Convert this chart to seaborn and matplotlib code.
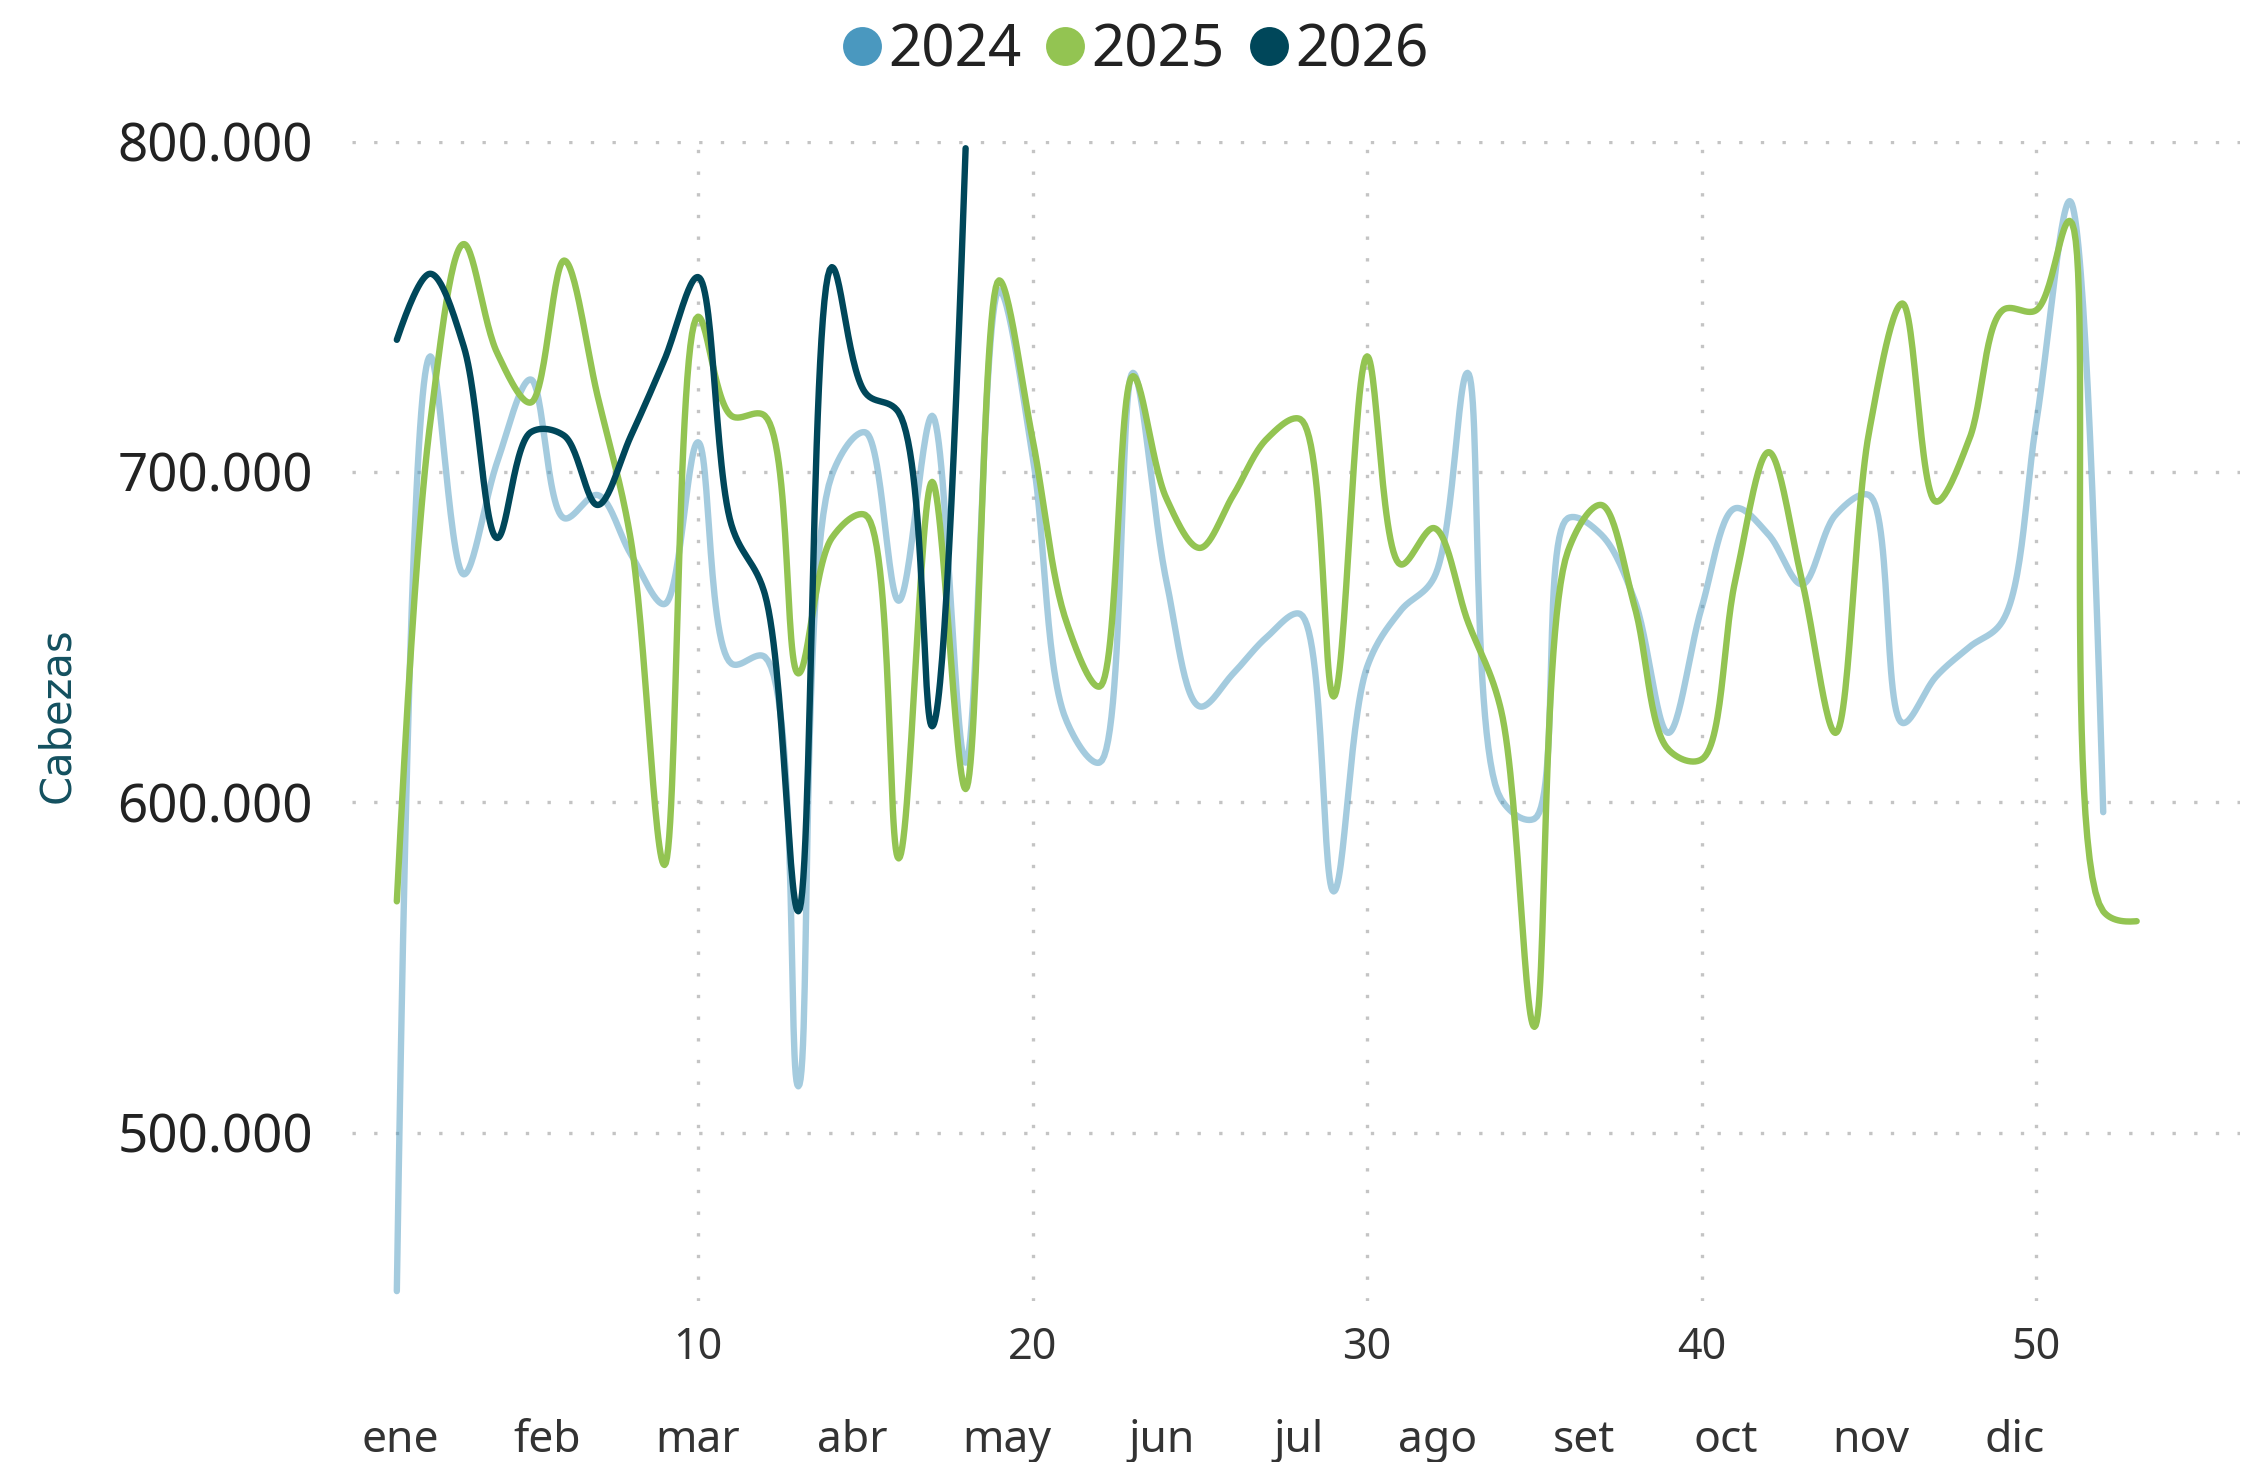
import numpy as np
import pandas as pd
import seaborn as sns
import matplotlib.pyplot as plt
from matplotlib.lines import Line2D
from matplotlib.ticker import FuncFormatter

# Datos: cabezas faenadas por semana
semanas = list(range(1, 54))

cab_2024 = [452, 735, 669, 703, 728, 686, 693, 675, 660, 709,
            642, 644, 514, 699, 712, 661, 717, 612, 755, 705,
            625, 612, 730, 667, 629, 639, 650, 657, 573, 641,
            658, 668, 730, 601, 595, 686, 681, 661, 621, 659,
            689, 681, 666, 687, 693, 624, 638, 647, 655, 715,
            782, 597]

cab_2025 = [570, 715, 769, 736, 721, 764, 723, 679, 581, 747,
            717, 717, 639, 680, 687, 583, 697, 604, 758, 710,
            655, 635, 729, 692, 677, 693, 710, 716, 632, 735,
            672, 683, 655, 628, 532, 676, 690, 659, 616, 613,
            667, 706, 667, 621, 712, 751, 691, 710, 749, 749,
            776, 567, 564]

cab_2026 = [740, 760, 738, 680, 712, 711, 690, 711, 734, 759,
            684, 663, 567, 762, 724, 718, 623, 798]

series = {"2024": cab_2024, "2025": cab_2025, "2026": cab_2026}
colores = {"2024": "#4a98bf", "2025": "#93c452", "2026": "#00475a"}
alphas = {"2024": 0.5, "2025": 1.0, "2026": 1.0}

meses = ["ene", "feb", "mar", "abr", "may", "jun",
         "jul", "ago", "set", "oct", "nov", "dic"]
mes_pos = [1.1, 5.49, 9.99, 14.62, 19.24, 23.86,
           27.96, 32.12, 36.48, 40.71, 45.06, 49.36]

x_ticks = [10, 20, 30, 40, 50]
y_ticks = [500000, 600000, 700000, 800000]


def spline_pts(pts, n=30):
    """Curva suavizada tipo 'spline' (Catmull-Rom centripeta) en pixeles."""
    tangentes = []
    for i in range(1, len(pts) - 1):
        d1 = pts[i - 1] - pts[i]
        d2 = pts[i + 1] - pts[i]
        d1a = np.hypot(*d1) ** 0.5
        d2a = np.hypot(*d2) ** 0.5
        num = d2a ** 2 * d1 - d1a ** 2 * d2
        t_in = pts[i] + num / (3 * d2a * (d1a + d2a))
        t_out = pts[i] - num / (3 * d1a * (d1a + d2a))
        tangentes.append((t_in, t_out))

    t = np.linspace(0, 1, n)[:, None]
    tramos = []
    p0, c, p1 = pts[0], tangentes[0][0], pts[1]
    tramos.append((1 - t) ** 2 * p0 + 2 * (1 - t) * t * c + t ** 2 * p1)
    for i in range(2, len(pts) - 1):
        p0, c1, c2, p1 = pts[i - 1], tangentes[i - 2][1], tangentes[i - 1][0], pts[i]
        tramos.append((1 - t) ** 3 * p0 + 3 * (1 - t) ** 2 * t * c1
                      + 3 * (1 - t) * t ** 2 * c2 + t ** 3 * p1)
    p0, c, p1 = pts[-2], tangentes[-1][1], pts[-1]
    tramos.append((1 - t) ** 2 * p0 + 2 * (1 - t) * t * c + t ** 2 * p1)
    return np.vstack(tramos)


sns.set_theme(style="white")
plt.rcParams['font.family'] = ['Noto Sans', 'DejaVu Sans']

fig = plt.figure(figsize=(11.26, 7.31), dpi=200)
ax = fig.add_axes([0.1563, 0.1101, 0.8384, 0.7937])

xlim = (-0.34, 56.09)
ylim = (449000, 800300)
ax.set_xlim(*xlim)
ax.set_ylim(*ylim)

# Lineas suavizadas
for anio, valores in series.items():
    x = np.array(semanas[:len(valores)], dtype=float)
    y = np.array(valores, dtype=float) * 1000
    px = ax.transData.transform(np.column_stack([x, y]))
    curva = ax.transData.inverted().transform(spline_pts(px))
    df = pd.DataFrame({"semana": curva[:, 0], "cabezas": curva[:, 1]})
    sns.lineplot(data=df, x="semana", y="cabezas", sort=False, estimator=None,
                 color=colores[anio], alpha=alphas[anio], linewidth=2.3,
                 solid_capstyle="round", ax=ax)

ax.set_xlim(*xlim)
ax.set_ylim(*ylim)

# Ejes y grilla
ax.set_xticks(x_ticks)
ax.set_yticks(y_ticks)
ax.yaxis.set_major_formatter(FuncFormatter(lambda v, p: f"{int(v):,}".replace(",", ".")))
ax.grid(True, linestyle=(0, (1, 5.5)), color="#c4c4c4", linewidth=1.2)
ax.tick_params(axis="x", length=0, pad=9, labelsize=15.5, labelcolor="#333333")
ax.tick_params(axis="y", length=0, pad=14, labelsize=19, labelcolor="#222222")
for s in ax.spines.values():
    s.set_visible(False)
ax.set_xlabel("")
ax.set_ylabel("")

# Meses
for mes, pos in zip(meses, mes_pos):
    ax.text(pos, -0.130, mes, transform=ax.get_xaxis_transform(),
            ha="center", va="baseline", fontsize=16, color="#333333")

fig.text(57 / 2252, 1 - 715 / 1462, "Cabezas", rotation=90, ha="center", va="center",
         fontsize=15, color="#13505f", family=["DejaVu Sans"])

# Leyenda
handles = [Line2D([], [], marker="o", linestyle="none", markersize=13,
                  markerfacecolor=colores[a], markeredgecolor=colores[a]) for a in series]
fig.legend(handles, list(series.keys()), loc="center", bbox_to_anchor=(0.5033, 0.965),
           ncol=3, frameon=False, fontsize=21, handlelength=0.8, handletextpad=0.05,
           columnspacing=0.35, labelcolor="#222222")

fig.savefig("out.png", dpi=200)
